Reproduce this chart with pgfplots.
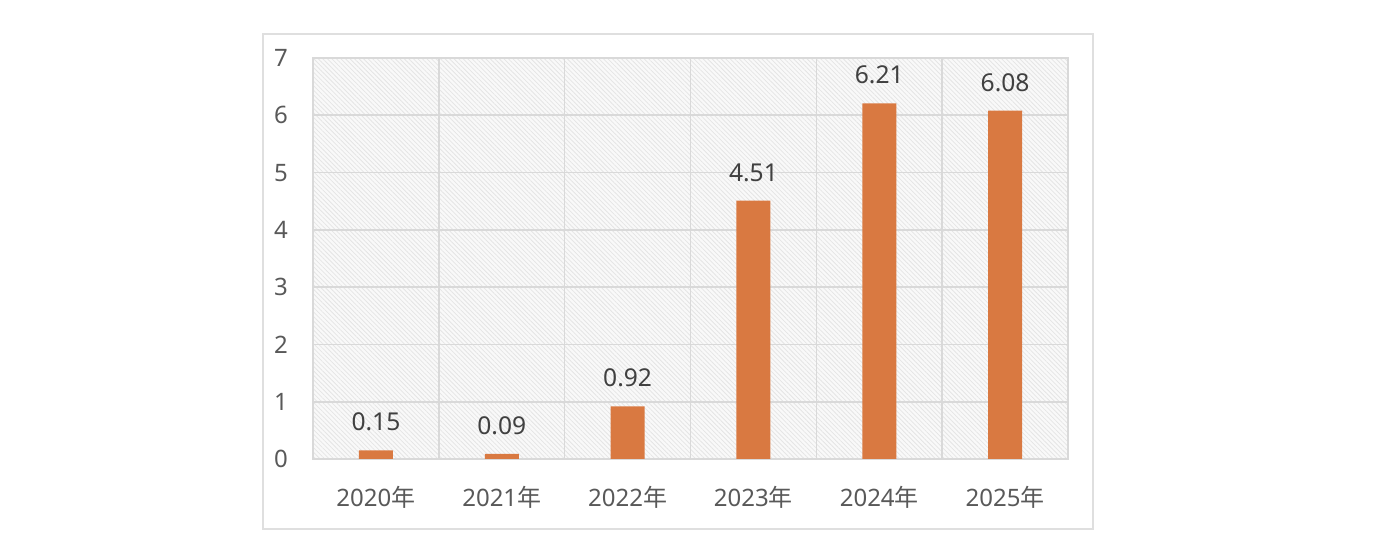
\documentclass[border=0pt]{standalone}
\usepackage{fontspec}
\setmainfont{Noto Sans}
\newfontfamily\cjk{Noto Sans CJK SC}
\usepackage{pgfplots}
\pgfplotsset{compat=1.18}
\usetikzlibrary{patterns.meta}
\definecolor{barc}{HTML}{D97941}
\definecolor{txt}{HTML}{595959}
\definecolor{lbl}{HTML}{404040}
\definecolor{gridc}{HTML}{D9D9D9}
\begin{document}
\begin{tikzpicture}[x=1pt,y=1pt]
\path[use as bounding box] (0,0) rectangle (689,273);
\draw[gray!25,line width=0.6pt] (131.5,8.5) rectangle (546.5,256);
\begin{axis}[
  at={(156.5pt,43.5pt)}, anchor=south west,
  scale only axis, width=377.5pt, height=200.5pt,
  xmin=-0.5, xmax=5.5, ymin=0, ymax=7,
  ytick={0,...,7},
  xtick={0,...,5},
  xticklabels={2020{\cjk 年},2021{\cjk 年},2022{\cjk 年},2023{\cjk 年},2024{\cjk 年},2025{\cjk 年}},
  minor xtick={-0.5,0.5,...,5.5},
  minor x grid style={gridc,line width=0.8pt},
  xminorgrids=true,
  ymajorgrids=true,
  major grid style={gridc,line width=0.8pt},
  axis line style={gridc,line width=0.8pt},
  major tick length=0pt, minor tick length=0pt,
  tick style={draw=none},
  ticklabel style={font=\fontsize{12}{14}\selectfont, text=txt},
  /pgf/number format/assume math mode=true,
  yticklabel style={xshift=-9pt},
  xticklabel style={yshift=-10pt},
  axis background/.style={fill=gray!5, postaction={pattern={Lines[angle=-45,distance=1.6pt,line width=0.4pt]}, pattern color=gray!20}},
  nodes near coords,
  every node near coord/.append style={font=\fontsize{12.3}{14}\selectfont, text=lbl, yshift=6pt},
  point meta=explicit symbolic,
  clip=false,
]
\addplot[ybar, bar width=17pt, fill=barc, draw=none] coordinates {
(0,0.15) [0.15]
(1,0.09) [0.09]
(2,0.92) [0.92]
(3,4.51) [4.51]
(4,6.21) [6.21]
(5,6.08) [6.08]
};
\end{axis}
\end{tikzpicture}
\end{document}
